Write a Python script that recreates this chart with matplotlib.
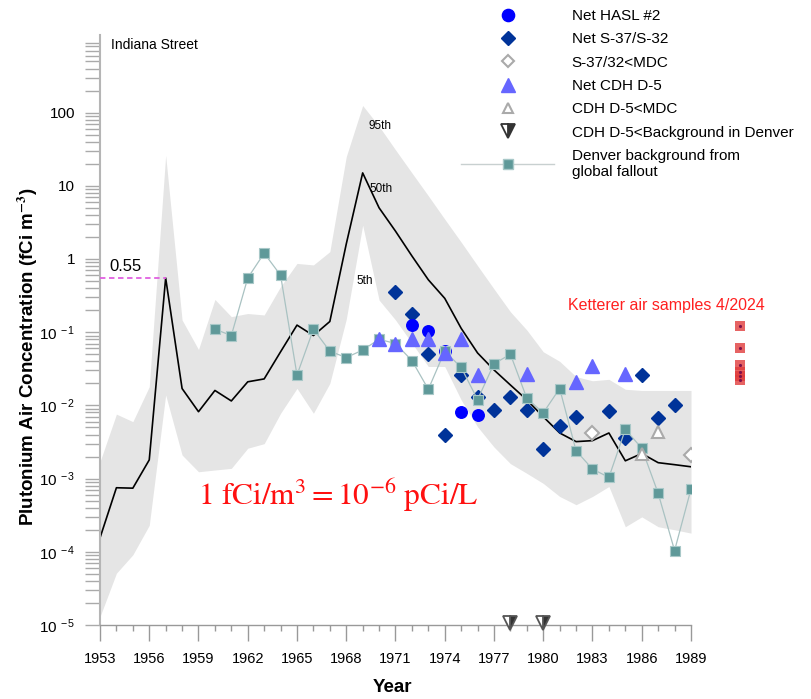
import matplotlib
matplotlib.use("Agg")
import matplotlib.pyplot as plt
import numpy as np
from matplotlib.lines import Line2D

plt.rcParams['font.family'] = ['Liberation Sans', 'DejaVu Sans']
plt.rcParams['mathtext.fontset'] = 'stix'

# ---------------- data ----------------
years = list(range(1953, 1990))
p50 = [1.55e-4, 7.5e-4, 7.4e-4, 1.8e-3, 0.55, 0.017, 8.2e-3, 0.016, 0.0115, 0.021, 0.023,
       0.054, 0.125, 0.09, 0.14, 1.6, 15, 5.0, 2.4, 1.1, 0.52, 0.29, 0.113, 0.052, 0.0305,
       0.019, 0.0119, 7.0e-3, 4.2e-3, 3.2e-3, 3.3e-3, 4.2e-3, 1.75e-3, 2.2e-3, 1.65e-3,
       1.55e-3, 1.45e-3]
p95 = [1.7e-3, 7.6e-3, 6.0e-3, 0.018, 26, 0.147, 0.058, 0.28, 0.163, 0.18, 0.172,
       0.42, 0.87, 0.83, 1.26, 25, 125, 65, 31, 15, 7.3, 3.5, 1.7, 0.81, 0.39,
       0.19, 0.107, 0.054, 0.04, 0.0247, 0.0217, 0.0227, 0.0166, 0.016, 0.016, 0.016, 0.016]
p05 = [1.3e-5, 5.1e-5, 9.1e-5, 2.3e-4, 0.0139, 2.1e-3, 1.24e-3, 1.31e-3, 1.38e-3, 2.6e-3, 3.0e-3,
       7.8e-3, 0.0171, 7.8e-3, 0.02, 0.15, 2.9, 0.275, 0.147, 0.071, 0.034, 0.034, 0.0119, 5.1e-3, 2.7e-3,
       1.6e-3, 1.18e-3, 8.6e-4, 5.7e-4, 4.4e-4, 5.7e-4, 7.8e-4, 2.2e-4, 3.0e-4, 2.2e-4, 2.0e-4, 1.8e-4]

denver_years = list(range(1960, 1990))
denver_vals = [0.11, 0.09, 0.55, 1.2, 0.6, 0.026, 0.11, 0.055, 0.045, 0.057, 0.08, 0.07, 0.041,
               0.0166, 0.055, 0.033, 0.012, 0.037, 0.05, 0.0125, 7.9e-3, 0.017, 2.4e-3, 1.35e-3,
               1.04e-3, 4.7e-3, 2.6e-3, 6.3e-4, 1.04e-4, 7.2e-4]

hasl_years = [1972, 1973, 1974, 1975, 1976]
hasl_vals = [0.125, 0.105, 0.056, 8.0e-3, 7.5e-3]

s37_years = [1971, 1972, 1973, 1974, 1975, 1976, 1977, 1978, 1979, 1980, 1981, 1982, 1984, 1985,
             1986, 1987, 1988]
s37_vals = [0.35, 0.18, 0.05, 4.0e-3, 0.026, 0.013, 8.7e-3, 0.013, 8.7e-3, 2.5e-3, 5.2e-3, 7.0e-3,
            8.3e-3, 3.6e-3, 0.026, 6.7e-3, 0.0102]

s37mdc_years = [1983, 1989]
s37mdc_vals = [4.2e-3, 2.1e-3]

cdh_years = [1970, 1971, 1972, 1973, 1974, 1975, 1976, 1979, 1982, 1983, 1985]
cdh_vals = [0.08, 0.068, 0.08, 0.08, 0.052, 0.08, 0.026, 0.027, 0.021, 0.035, 0.027]

cdhmdc_years = [1986, 1987]
cdhmdc_vals = [2.2e-3, 4.3e-3]

cdhbg_years = [1978, 1980]
cdhbg_vals = [1.05e-5, 1.05e-5]

ketterer_year = [1992] * 6
ketterer_vals = [0.12, 0.06, 0.036, 0.029, 0.025, 0.022]

yticks = [1e-5, 1e-4, 1e-3, 1e-2, 1e-1, 1, 10, 100]
ytick_labels = [r'$\mathregular{10^{\ -5}}$', r'$\mathregular{10^{\ -4}}$', r'$\mathregular{10^{\ -3}}$',
                r'$\mathregular{10^{\ -2}}$', r'$\mathregular{10^{\ -1}}$', '1', '10', '100']
xticks = list(range(1953, 1990, 3))

# ---------------- figure ----------------
W, H = 811, 699
fig = plt.figure(figsize=(W / 100, H / 100), dpi=100)
ax = fig.add_axes([100 / W, (H - 625) / H, 591 / W, 590 / H])

ax.set_yscale('log')
ax.set_xlim(1953, 1989)
ax.set_ylim(1e-5, 10 ** 3.06)

ax.fill_between(years, p05, p95, color='#e5e5e5', lw=0, zorder=1)
ax.plot(years, p50, color='black', lw=1.2, zorder=2)

ax.plot([1953, 1957], [0.55, 0.55], ls=(0, (3, 2)), color='#e060e0', lw=1.3, zorder=3)
ax.text(1953.6, 0.62, '0.55', fontsize=12, ha='left', va='bottom')

ax.text(1969.35, 66, '95th', fontsize=8.5, ha='left', va='center')
ax.text(1969.4, 9.1, '50th', fontsize=8.5, ha='left', va='center')
ax.text(1968.65, 0.5, '5th', fontsize=8.5, ha='left', va='center')

ax.plot(s37_years, s37_vals, 'D', color='#003399', ms=7.2, mec='#003399', ls='none', zorder=4,
        label='Net S-37/S-32')
ax.plot(hasl_years, hasl_vals, 'o', color='#0000ff', ms=8.3, ls='none', zorder=5, label='Net HASL #2')
ax.plot(denver_years, denver_vals, '-', color='#a9c2c2', lw=0.9, zorder=6)
ax.plot(denver_years, denver_vals, 's', color='#5f9999', mec='#a8c8c8', mew=0.8, ms=7.8, ls='none',
        zorder=7)
ax.plot(cdh_years, cdh_vals, '^', color='#6666ff', ms=9.5, ls='none', zorder=8, label='Net CDH D-5')
ax.plot(s37mdc_years, s37mdc_vals, 'D', mfc='white', mec='#aaaaaa', mew=1.5, ms=6.8, ls='none',
        zorder=9, label='S-37/32<MDC')
ax.plot(cdhmdc_years, cdhmdc_vals, '^', mfc='white', mec='#aaaaaa', mew=1.5, ms=8, ls='none',
        zorder=9, label='CDH D-5<MDC')
ax.plot(cdhbg_years, cdhbg_vals, 'v', fillstyle='right', mfc='#333333', mfcalt='white',
        mec='#555555', mew=1.3, ms=10, ls='none', zorder=10, clip_on=False,
        label='CDH D-5<Background in Denver')

ax.plot(ketterer_year, ketterer_vals, 's', color='#e03c3c', alpha=0.8, ms=6.8, mew=0,
        ls='none', zorder=10, clip_on=False)
ax.plot(ketterer_year, ketterer_vals, '.', color='#80104a', ms=2.5, ls='none', zorder=11,
        clip_on=False)
ax.text(1987.5, 0.23, 'Ketterer air samples 4/2024', color='#ff2020', fontsize=11.5,
        ha='center', va='center', clip_on=False)

ax.text(1959.0, 6.0e-4, r'$1\ \mathrm{fCi/m^3} = 10^{-6}\ \mathrm{pCi/L}$', color='#ff1010',
        fontsize=22.5, ha='left', va='center')

ax.text(1953.7, 830, 'Indiana Street', fontsize=10, ha='left', va='center')

# ---------------- axes styling ----------------
for s in ['top', 'right']:
    ax.spines[s].set_visible(False)
ax.spines['left'].set_color('#b5b5b5')
ax.spines['left'].set_linewidth(1.5)
ax.spines['bottom'].set_color('#999999')
ax.spines['bottom'].set_linewidth(1.0)

ax.set_yticks(yticks)
ax.set_yticklabels(ytick_labels)
ax.yaxis.set_minor_locator(matplotlib.ticker.LogLocator(base=10, subs=np.arange(2, 10), numticks=20))
ax.yaxis.set_minor_formatter(matplotlib.ticker.NullFormatter())
ax.tick_params(axis='y', which='both', direction='out', length=10.8, width=1, color='#aaaaaa',
               labelsize=11, pad=7)

ax.set_xticks(xticks)
ax.set_xticks(years, minor=True)
ax.tick_params(axis='x', which='major', direction='out', length=11.5, width=1, color='#999999',
               labelsize=10.5, pad=8)
ax.tick_params(axis='x', which='minor', direction='out', length=4.3, width=1, color='#999999')

fig.text(28 / W, 1 - 357 / H, r'Plutonium Air Concentration (fCi m$^{\mathbf{-3}}$)', rotation=90,
         fontsize=13.5, fontweight='bold', ha='center', va='center')
fig.text(392 / W, 1 - 687 / H, 'Year', fontsize=13.5, fontweight='bold', ha='center', va='center')

# ---------------- legend ----------------
handles = [
    Line2D([], [], marker='o', color='#0000ff', ls='none', ms=8.8),
    Line2D([], [], marker='D', color='#003399', ls='none', ms=7.2),
    Line2D([], [], marker='D', mfc='white', mec='#aaaaaa', mew=1.5, ls='none', ms=6.5),
    Line2D([], [], marker='^', color='#6666ff', ls='none', ms=9.5),
    Line2D([], [], marker='^', mfc='white', mec='#aaaaaa', mew=1.5, ls='none', ms=7.5),
    Line2D([], [], marker='v', fillstyle='right', mfc='#333333', mfcalt='white', mec='#333333',
           mew=1.3, ls='none', ms=9.5),
    Line2D([], [], marker='s', color='#c8d0d0', mfc='#5f9999', mec='#a8c8c8', lw=1, ms=7.8),
]
labels = ['Net HASL #2', 'Net S-37/S-32', 'S-37/32<MDC', 'Net CDH D-5', 'CDH D-5<MDC',
          'CDH D-5<Background in Denver', 'Denver background from\nglobal fallout']
fig.legend(handles, labels, loc='upper left', bbox_to_anchor=(461 / W, 1 - 9 / H),
           frameon=False, fontsize=11, handlelength=6.1, handletextpad=1.15, labelspacing=0.61,
           borderpad=0, borderaxespad=0, numpoints=1)

fig.savefig('out.png', dpi=100)
